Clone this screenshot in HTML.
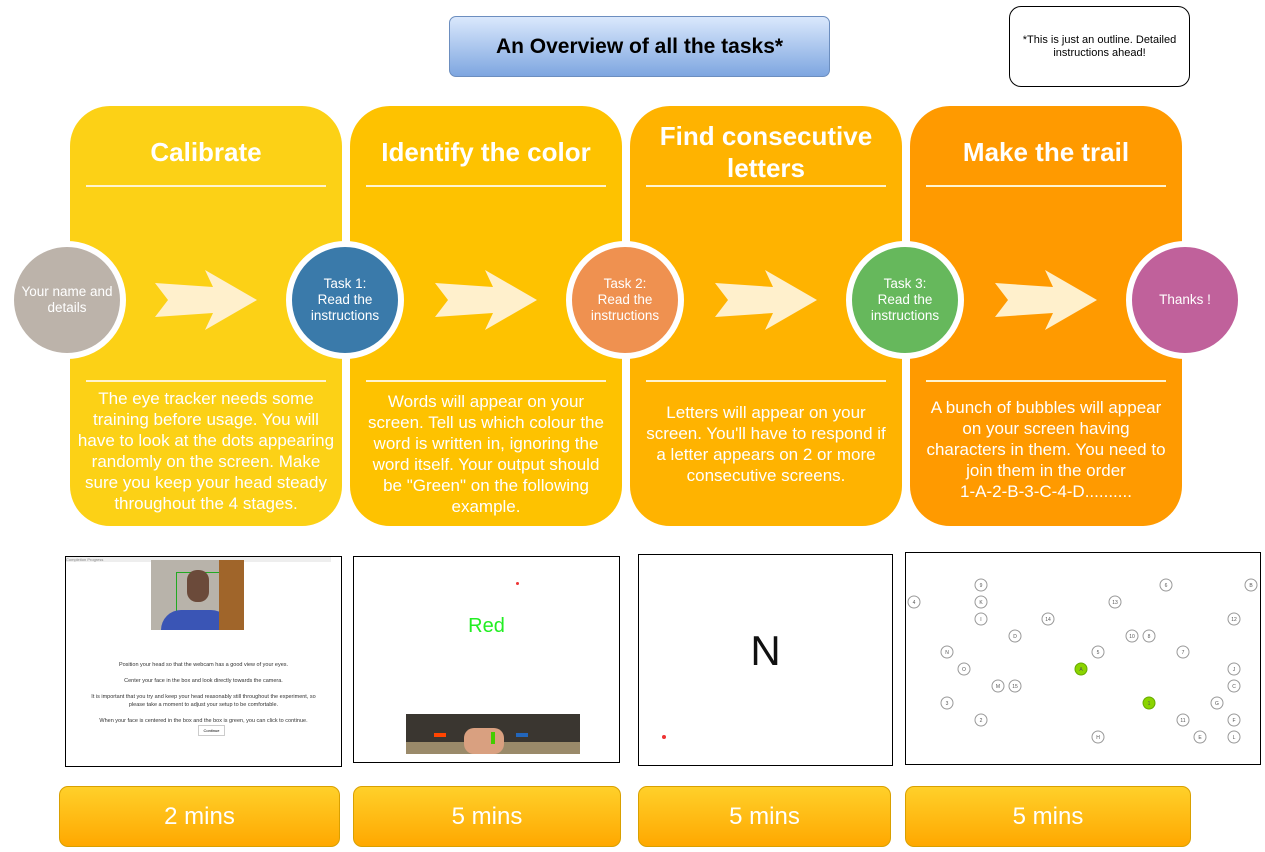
<!DOCTYPE html>
<html><head><meta charset="utf-8"><style>
body{margin:0;width:1265px;height:851px;background:#fff;position:relative;overflow:hidden;font-family:"Liberation Sans",Arial,sans-serif}
.a{position:absolute}
.col{position:absolute;top:106px;width:272px;height:420px;border-radius:40px;color:#fff;text-align:center}
.col h2{position:absolute;left:0;right:0;margin:0;font-size:26px;font-weight:bold;line-height:32px}
.col .l{position:absolute;left:16px;right:16px;height:2px;background:#fff4d0}
.col p{position:absolute;left:0;right:0;margin:0;font-size:17px;line-height:21px;white-space:nowrap}
.c{position:absolute;width:106px;height:106px;border:6px solid #fff;border-radius:50%;top:241px;color:#fff;font-size:13.5px;line-height:16px;display:flex;align-items:center;justify-content:center;text-align:center}
.m{position:absolute;top:786px;height:59px;border:1px solid #d9a000;border-radius:9px;background:linear-gradient(#ffd02a,#ffa800);color:#fff;font-size:24px;line-height:59px;text-align:center}
.shot{position:absolute;border:1px solid #000;background:#fff}
</style></head><body>
<div class="a" style="left:449px;top:16px;width:379px;height:59px;border:1px solid #6c8ebf;border-radius:7px;background:linear-gradient(#dae8fc,#7ea6e0);font-size:21px;font-weight:bold;line-height:59px;text-align:center">An Overview of all the tasks*</div>
<div class="a" style="left:1009px;top:6px;width:179px;height:79px;border:1px solid #000;border-radius:12px;font-size:11px;line-height:13px;text-align:center;display:flex;align-items:center;justify-content:center">*This is just an outline. Detailed instructions ahead!</div>

<div class="col" style="left:70px;background:#fcd116"><h2 style="top:30px">Calibrate</h2><div class="l" style="top:79px"></div><div class="l" style="top:274px"></div><p style="top:282px">The eye tracker needs some<br>training before usage. You will<br>have to look at the dots appearing<br>randomly on the screen. Make<br>sure you keep your head steady<br>throughout the 4 stages.</p></div>
<div class="col" style="left:350px;background:#fec200"><h2 style="top:30px">Identify the color</h2><div class="l" style="top:79px"></div><div class="l" style="top:274px"></div><p style="top:285px">Words will appear on your<br>screen. Tell us which colour the<br>word is written in, ignoring the<br>word itself. Your output should<br>be "Green" on the following<br>example.</p></div>
<div class="col" style="left:630px;background:#ffb300"><h2 style="top:14px">Find consecutive<br>letters</h2><div class="l" style="top:79px"></div><div class="l" style="top:274px"></div><p style="top:296px">Letters will appear on your<br>screen. You'll have to respond if<br>a letter appears on 2 or more<br>consecutive screens.</p></div>
<div class="col" style="left:910px;background:#ff9a00"><h2 style="top:30px">Make the trail</h2><div class="l" style="top:79px"></div><div class="l" style="top:274px"></div><p style="top:291px">A bunch of bubbles will appear<br>on your screen having<br>characters in them. You need to<br>join them in the order<br>1-A-2-B-3-C-4-D..........</p></div>

<svg class="a" style="left:0;top:0" width="1265" height="851">
<g fill="#fff0cc">
<polygon points="155,283 213,287 205,270 257,300 205,330 213,313 155,317 168,300"/>
<polygon points="435,283 493,287 485,270 537,300 485,330 493,313 435,317 448,300"/>
<polygon points="715,283 773,287 765,270 817,300 765,330 773,313 715,317 728,300"/>
<polygon points="995,283 1053,287 1045,270 1097,300 1045,330 1053,313 995,317 1008,300"/>
</g></svg>

<div class="c" style="left:8px;background:#bcb3aa">Your name and details</div>
<div class="c" style="left:286px;background:#3a7aaa">Task 1:<br>Read the<br>instructions</div>
<div class="c" style="left:566px;background:#ef9150">Task 2:<br>Read the<br>instructions</div>
<div class="c" style="left:846px;background:#66b85c">Task 3:<br>Read the<br>instructions</div>
<div class="c" style="left:1126px;background:#c0619b">Thanks !</div>

<div class="shot" style="left:65px;top:556px;width:275px;height:209px">
<div class="a" style="left:0;top:0;width:265px;height:5px;background:#eee;font-size:4px;color:#888">Completion Progress</div>
<div class="a" style="left:85px;top:3px;width:93px;height:70px;background:#b8b3aa"><div class="a" style="left:25px;top:12px;width:46px;height:46px;border:1px solid #2a2;box-sizing:border-box"></div><div class="a" style="left:10px;top:50px;width:70px;height:20px;background:#3a55b5;border-radius:20px 20px 0 0"></div><div class="a" style="left:36px;top:10px;width:22px;height:32px;background:#6b4a3a;border-radius:10px"></div><div class="a" style="left:68px;top:0;width:25px;height:70px;background:#a0652a"></div></div>
<div class="a" style="left:0;right:0;top:104px;font-size:5.5px;line-height:8px;text-align:center;color:#333">Position your head so that the webcam has a good view of your eyes.<br><br>Center your face in the box and look directly towards the camera.<br><br>It is important that you try and keep your head reasonably still throughout the experiment, so<br>please take a moment to adjust your setup to be comfortable.<br><br>When your face is centered in the box and the box is green, you can click to continue.</div>
<div class="a" style="left:132px;top:168px;width:25px;height:9px;border:1px solid #ccc;font-size:4px;line-height:9px;text-align:center">Continue</div>
</div>

<div class="shot" style="left:353px;top:556px;width:265px;height:205px">
<div class="a" style="left:162px;top:25px;width:3px;height:3px;background:#e33;border-radius:50%"></div>
<div class="a" style="left:0;right:0;top:58px;font-size:20px;color:#2e2;text-align:center">Red</div>
<div class="a" style="left:52px;top:157px;width:174px;height:40px;background:#3a3630"><div class="a" style="left:0;top:28px;width:174px;height:12px;background:#9a8a6a"></div><div class="a" style="left:58px;top:14px;width:40px;height:26px;background:#d9a080;border-radius:10px"></div><div class="a" style="left:28px;top:19px;width:12px;height:4px;background:#f40"></div><div class="a" style="left:110px;top:19px;width:12px;height:4px;background:#26b"></div><div class="a" style="left:85px;top:18px;width:4px;height:12px;background:#4c0"></div></div>
</div>

<div class="shot" style="left:638px;top:554px;width:253px;height:210px">
<div class="a" style="left:0;right:0;top:72px;font-size:42px;text-align:center;color:#111">N</div>
<div class="a" style="left:23px;top:180px;width:4px;height:4px;background:#e33;border-radius:50%"></div>
</div>

<div class="shot" style="left:905px;top:552px;width:354px;height:211px;overflow:visible">
<svg class="a" style="left:-905px;top:-552px" width="1265" height="851" font-size="5" text-anchor="middle" font-family="Liberation Sans">
<g fill="#fff" stroke="#999" stroke-width="1">
<circle cx="980" cy="584" r="6"/><circle cx="1165" cy="584" r="6"/><circle cx="1250" cy="584" r="6"/><circle cx="913" cy="601" r="6"/><circle cx="980" cy="601" r="6"/><circle cx="1114" cy="601" r="6"/><circle cx="980" cy="618" r="6"/><circle cx="1047" cy="618" r="6"/><circle cx="1233" cy="618" r="6"/><circle cx="1014" cy="635" r="6"/><circle cx="1131" cy="635" r="6"/><circle cx="1148" cy="635" r="6"/><circle cx="946" cy="651" r="6"/><circle cx="1097" cy="651" r="6"/><circle cx="1182" cy="651" r="6"/><circle cx="963" cy="668" r="6"/><circle cx="1233" cy="668" r="6"/><circle cx="997" cy="685" r="6"/><circle cx="1014" cy="685" r="6"/><circle cx="1233" cy="685" r="6"/><circle cx="946" cy="702" r="6"/><circle cx="1216" cy="702" r="6"/><circle cx="980" cy="719" r="6"/><circle cx="1182" cy="719" r="6"/><circle cx="1233" cy="719" r="6"/><circle cx="1097" cy="736" r="6"/><circle cx="1199" cy="736" r="6"/><circle cx="1233" cy="736" r="6"/>
</g>
<circle cx="1080" cy="668" r="6" fill="#8bd400" stroke="#6a0"/><circle cx="1148" cy="702" r="6" fill="#8bd400" stroke="#6a0"/>
<g fill="#555">
<text x="980" y="586">9</text><text x="1165" y="586">6</text><text x="1250" y="586">B</text><text x="913" y="603">4</text><text x="980" y="603">K</text><text x="1114" y="603">13</text><text x="980" y="620">I</text><text x="1047" y="620">14</text><text x="1233" y="620">12</text><text x="1014" y="637">D</text><text x="1131" y="637">10</text><text x="1148" y="637">8</text><text x="946" y="653">N</text><text x="1097" y="653">5</text><text x="1182" y="653">7</text><text x="963" y="670">O</text><text x="1233" y="670">J</text><text x="997" y="687">M</text><text x="1014" y="687">15</text><text x="1233" y="687">C</text><text x="946" y="704">3</text><text x="1216" y="704">G</text><text x="980" y="721">2</text><text x="1182" y="721">11</text><text x="1233" y="721">F</text><text x="1097" y="738">H</text><text x="1199" y="738">E</text><text x="1233" y="738">L</text><text x="1080" y="670">A</text><text x="1148" y="704">1</text>
</g></svg>
</div>

<div class="m" style="left:59px;width:279px">2 mins</div>
<div class="m" style="left:353px;width:266px">5 mins</div>
<div class="m" style="left:638px;width:251px">5 mins</div>
<div class="m" style="left:905px;width:284px">5 mins</div>
</body></html>
